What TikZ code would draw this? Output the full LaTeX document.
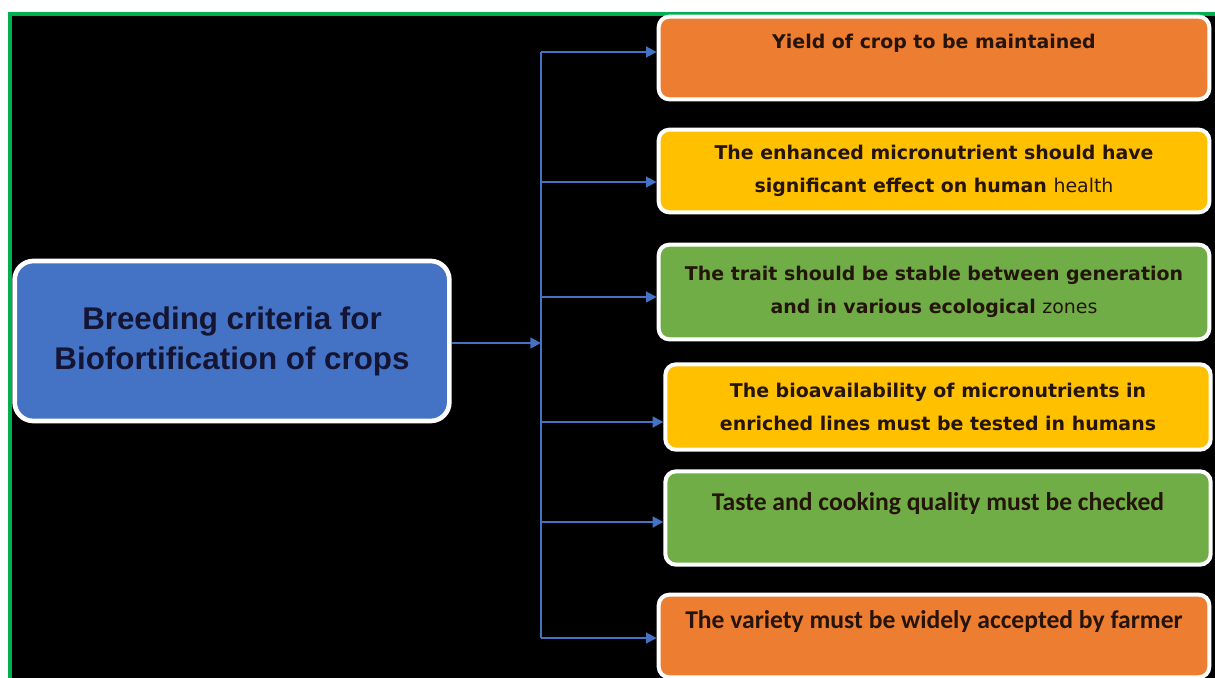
\documentclass[tikz,border=0pt]{standalone}
\usepackage{fontspec}
\setmainfont{DejaVu Sans}
\newfontfamily\arialfont{Liberation Sans}
\newfontfamily\calibrifont{Carlito}
\usetikzlibrary{positioning,arrows.meta}
\definecolor{boxorange}{HTML}{ED7D31}
\definecolor{boxyellow}{HTML}{FFC000}
\definecolor{boxgreen}{HTML}{70AD47}
\definecolor{boxblue}{HTML}{4472C4}
\definecolor{framegreen}{HTML}{00B050}
\definecolor{textnavy}{HTML}{141433}
\definecolor{textdark}{HTML}{24140A}

\begin{document}
\begin{tikzpicture}[x=0.75pt, y=-0.75pt,
mainnode/.style={rectangle, rounded corners=14pt, draw=white, line width=3.5pt, fill=boxblue, minimum width=326pt, minimum height=120pt, align=center, text=textnavy, font=\arialfont\bfseries\fontsize{23.5}{30}\selectfont},
critnode/.style={rectangle, rounded corners=8pt, draw=white, line width=3pt, minimum width=413pt, align=center, text=textdark, font=\bfseries\fontsize{14.2}{24.5}\selectfont},
critnodec/.style={critnode, font=\calibrifont\bfseries\fontsize{19.2}{24.5}\selectfont},
linkarrow/.style={draw=boxblue, line width=1.8pt, -{Triangle[length=8pt,width=8pt]}},
trunkline/.style={draw=boxblue, line width=1.8pt},
]
\useasboundingbox (0,0) rectangle (1215,678);
\filldraw[fill=black, draw=framegreen, line width=2.5pt] (10,14) rectangle (1230,700);

%Nodes
\node[mainnode]                    (Breeding)  at (232,341) {Breeding criteria for\\Biofortification of crops};
\node[critnode, fill=boxorange, minimum height=62pt]   (Yield)     at (934,58)  {Yield of crop to be maintained\\~};
\node[critnode, fill=boxyellow, minimum height=62pt]   (Health)    at (934,171) {The enhanced micronutrient should have\\significant effect on human \mdseries health};
\node[critnode, fill=boxgreen, minimum height=71pt]    (Stable)    at (934,292) {The trait should be stable between generation\\and in various ecological \mdseries zones};
\node[critnode, fill=boxyellow, minimum height=64pt, minimum width=409pt]  (Bioavail)  at (938,407) {The bioavailability of micronutrients in\\enriched lines must be tested in humans};
\node[critnodec, fill=boxgreen, minimum height=70pt, minimum width=409pt]  (Taste)     at (938,518) {Taste and cooking quality must be checked\\~};
\node[critnodec, fill=boxorange, minimum height=62pt]  (Farmer)    at (934,636) {The variety must be widely accepted by farmer\\~};

\coordinate (hub) at (541,343);
\coordinate (t1) at (541,52);
\coordinate (t2) at (541,182);
\coordinate (t3) at (541,297);
\coordinate (t4) at (541,422);
\coordinate (t5) at (541,522);
\coordinate (t6) at (541,638);

%Lines
\draw[trunkline] (t1) -- (t6);
\draw[linkarrow] (Breeding.east |- hub) -- (hub);
\draw[linkarrow] (t1) -- (t1 -| Yield.west);
\draw[linkarrow] (t2) -- (t2 -| Health.west);
\draw[linkarrow] (t3) -- (t3 -| Stable.west);
\draw[linkarrow] (t4) -- (t4 -| Bioavail.west);
\draw[linkarrow] (t5) -- (t5 -| Taste.west);
\draw[linkarrow] (t6) -- (t6 -| Farmer.west);

\end{tikzpicture}
\end{document}
